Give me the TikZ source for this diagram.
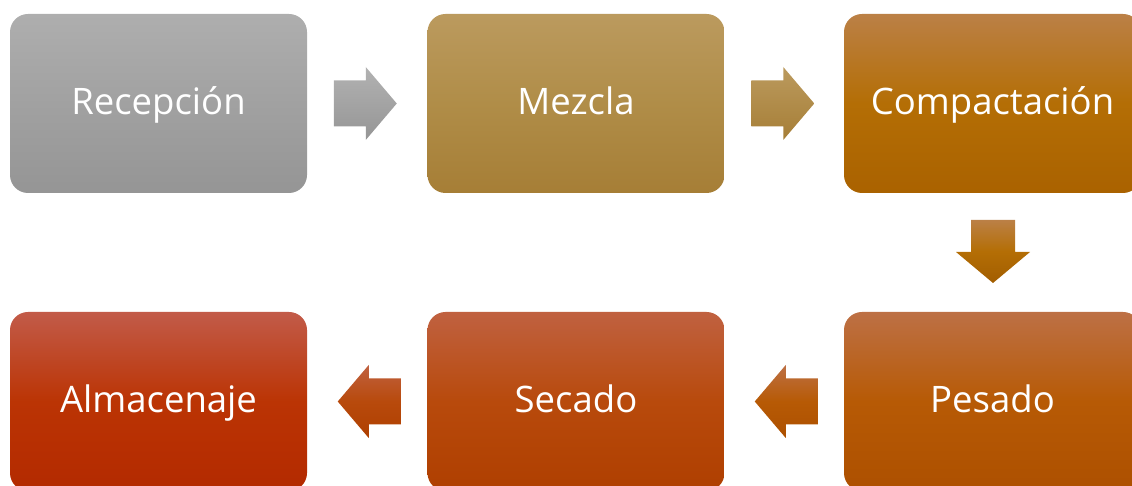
\documentclass[tikz,border=0pt]{standalone}
\usepackage{fontspec}
\setmainfont{Open Sans}
\usetikzlibrary{calc}
\definecolor{g1}{HTML}{AEAEAE}\definecolor{g2}{HTML}{A1A1A1}\definecolor{g3}{HTML}{959595}
\definecolor{m1}{HTML}{BB9A5E}\definecolor{m2}{HTML}{B08D48}\definecolor{m3}{HTML}{A67E36}
\definecolor{c1}{HTML}{BB8046}\definecolor{c2}{HTML}{B46E05}\definecolor{c3}{HTML}{AA6200}
\definecolor{p1}{HTML}{BD7045}\definecolor{p2}{HTML}{B75A05}\definecolor{p3}{HTML}{AD5000}
\definecolor{s1}{HTML}{C06140}\definecolor{s2}{HTML}{B84A0C}\definecolor{s3}{HTML}{AF3F00}
\definecolor{a1}{HTML}{C25B49}\definecolor{a2}{HTML}{BB3404}\definecolor{a3}{HTML}{B32A00}
\tikzset{
  stepbox/.style={rounded corners=18pt, minimum width=297pt, minimum height=179pt,
    inner sep=0pt, text=white, text height=30pt, text depth=7pt,
    font=\fontsize{36.5}{44}\selectfont},
}
\begin{document}
\begin{tikzpicture}[x=1pt,y=1pt]
\useasboundingbox (0,0) rectangle (1132,486);
\node[stepbox, top color=g1, bottom color=g3, middle color=g2] (rec) at (158.5,382.5) {Recepción};
\node[stepbox, top color=m1, bottom color=m3, middle color=m2] (mez) at (576,382.5) {Mezcla};
\node[stepbox, top color=c1, bottom color=c3, middle color=c2] (com) at (992.5,382.5) {Compactación};
\node[stepbox, top color=p1, bottom color=p3, middle color=p2] (pes) at (992.5,84.5) {Pesado};
\node[stepbox, top color=s1, bottom color=s3, middle color=s2] (sec) at (576,84.5) {Secado};
\node[stepbox, top color=a1, bottom color=a3, middle color=a2] (alm) at (158.5,84.5) {Almacenaje};
% block arrows
\coordinate (k1) at ($(rec.east)!0.5!(mez.west)+(-2,0)$);
\coordinate (k2) at ($(mez.east)!0.5!(com.west)+(-1.5,0)$);
\coordinate (k3) at ($(com.south)!0.5!(pes.north)+(0.5,1)$);
\coordinate (k4) at ($(pes.west)!0.5!(sec.east)+(2,0)$);
\coordinate (k5) at ($(sec.west)!0.5!(alm.east)+(2,0)$);
\shade[top color=g1!95!white, bottom color=g3] (k1) ++(-31.5,-23) -- ++(32,0) -- ++(0,-13.5) -- ++(31,36.5) -- ++(-31,36.5) -- ++(0,-13.5) -- ++(-32,0) -- cycle;
\shade[top color=m1, bottom color=m3] (k2) ++(-31.5,-23) -- ++(32,0) -- ++(0,-13.5) -- ++(31,36.5) -- ++(-31,36.5) -- ++(0,-13.5) -- ++(-32,0) -- cycle;
\shade[top color=c1, bottom color=c3!95!black, middle color=c2] (k3) ++(-22,31.5) -- ++(44,0) -- ++(0,-32) -- ++(15,0) -- ++(-37,-31) -- ++(-37,31) -- ++(15,0) -- cycle;
\shade[top color=p1, bottom color=p3, middle color=p2] (k4) ++(31.5,-23) -- ++(-32,0) -- ++(0,-13.5) -- ++(-31,36.5) -- ++(31,36.5) -- ++(0,-13.5) -- ++(32,0) -- cycle;
\shade[top color=s1, bottom color=s3, middle color=s2] (k5) ++(31.5,-23) -- ++(-32,0) -- ++(0,-13.5) -- ++(-31,36.5) -- ++(31,36.5) -- ++(0,-13.5) -- ++(32,0) -- cycle;
\end{tikzpicture}
\end{document}
